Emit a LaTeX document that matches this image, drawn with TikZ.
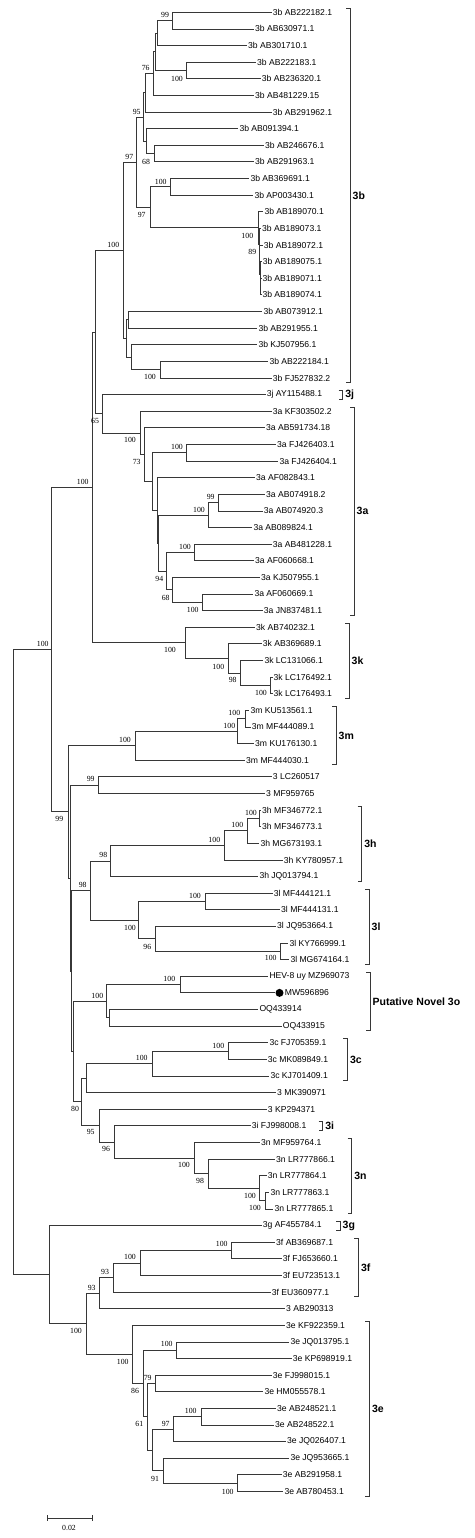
\documentclass[tikz,border=0pt]{standalone}
\usepackage{fontspec}
\setmainfont{Liberation Sans}
\newfontfamily\bootfont{Liberation Serif}
\usepackage{xcolor}
\usepackage{tikz}
\usetikzlibrary{positioning}
\definecolor{treegray}{RGB}{55, 55, 55}

\tikzset{
    branch/.style={draw=treegray, line width=0.8pt},
    leaf/.style={anchor=west, inner sep=1pt, font=\fontsize{8.6}{9}\selectfont},
    boot/.style={inner sep=0pt, font=\bootfont\fontsize{7.8}{8}\selectfont},
    clade/.style={anchor=west, inner sep=1pt, font=\bfseries\fontsize{10.5}{11}\selectfont},
    bracket/.style={draw=treegray, line width=0.8pt},
    dotmark/.style={circle, fill=black, inner sep=0pt, minimum size=8pt}
}

\begin{document}
\begin{tikzpicture}[x=1pt, y=-1pt]
    \useasboundingbox (0,0) rectangle (474,1538);

    % Leaves (row i sits at 16.62*i-4.32)
    \foreach \i/\x/\name in {1/271.7/3b AB222182.1, 2/254/3b AB630971.1, 3/247/3b AB301710.1,
        4/256/3b AB222183.1, 5/260.7/3b AB236320.1, 6/254/3b AB481229.15, 7/271.7/3b AB291962.1,
        8/238.3/3b AB091394.1, 9/264/3b AB246676.1, 10/254/3b AB291963.1, 11/249.3/3b AB369691.1,
        12/253.3/3b AP003430.1, 13/263.3/3b AB189070.1, 14/261/3b AB189073.1, 15/262.7/3b AB189072.1,
        16/261.7/3b AB189075.1, 17/261.3/3b AB189071.1, 18/261.3/3b AB189074.1, 19/262.3/3b AB073912.1,
        20/257.3/3b AB291955.1, 21/257.3/3b KJ507956.1, 22/268.3/3b AB222184.1, 23/271.7/3b FJ527832.2,
        24/265.7/3j AY115488.1, 25/271.7/3a KF303502.2, 26/265/3a AB591734.18, 27/276/3a FJ426403.1,
        28/278.3/3a FJ426404.1, 29/255/3a AF082843.1, 30/265/3a AB074918.2, 31/262.7/3a AB074920.3,
        32/252.3/3a AB089824.1, 33/271.7/3a AB481228.1, 34/254/3a AF060668.1, 35/260/3a KJ507955.1,
        36/253.3/3a AF060669.1, 37/262.7/3a JN837481.1, 38/255/3k AB740232.1, 39/261.7/3k AB369689.1,
        40/263.3/3k LC131066.1, 41/272.5/3k LC176492.1, 42/272.5/3k LC176493.1, 43/249.3/3m KU513561.1,
        44/250.7/3m MF444089.1, 45/254/3m KU176130.1, 46/245/3m MF444030.1, 47/271.7/3 LC260517,
        48/265/3 MF959765, 49/261/3h MF346772.1, 50/261/3h MF346773.1, 51/259.3/3h MG673193.1,
        52/282.7/3h KY780957.1, 53/258.3/3h JQ013794.1, 54/272.7/3l MF444121.1, 55/280/3l MF444131.1,
        56/276/3l JQ953664.1, 57/288.3/3l KY766999.1, 58/289.3/3l MG674164.1, 59/268.3/HEV-8 uy MZ969073,
        61/258.3/OQ433914, 62/281.7/OQ433915, 63/268.3/3c FJ705359.1, 64/266.7/3c MK089849.1,
        65/269.3/3c KJ701409.1, 66/276/3 MK390971, 67/266.7/3 KP294371, 68/250.7/3i FJ998008.1,
        69/260/3n MF959764.1, 70/275/3n LR777866.1, 71/266.7/3n LR777864.1, 72/269.3/3n LR777863.1,
        73/273.3/3n LR777865.1, 74/261.7/3g AF455784.1, 75/275/3f AB369687.1, 76/281.7/3f FJ653660.1,
        77/281.7/3f EU723513.1, 78/270.7/3f EU360977.1, 79/285/3 AB290313, 80/285/3e KF922359.1,
        81/289.3/3e JQ013795.1, 82/291.7/3e KP698919.1, 83/271.7/3e FJ998015.1, 84/263.3/3e HM055578.1,
        85/276/3e AB248521.1, 86/274/3e AB248522.1, 87/286/3e JQ026407.1, 88/289.3/3e JQ953665.1,
        89/281.7/3e AB291958.1, 90/283.3/3e AB780453.1} {
        \coordinate (l\i) at (\x,{16.62*\i-4.32});
        \node[leaf] (t\i) at (l\i) {\name};
    }
    % Query sequence
    \coordinate (l60) at (275.3,{16.62*60-4.32});
    \node[dotmark, anchor=west] (mw) at (l60) {};
    \node[leaf, right=0pt of mw] (t60) {MW596896};

    % Internal nodes
    \foreach \n/\x/\r in {a1/172.7/1.5, a2/157.3/2.25, a3/186/4.5, a4/155/3.375, a5/153.3/4.6875,
        a6/145.7/5.84375, a7/154/9.5, a8/146.7/8.75, a9/143.3/7.296875, a10/170/11.5,
        a11/260.5/17.5, a12/260/16.75, a13/259.5/15.875, a14/259/14.9375, a15/258.3/13.96875,
        a16/150/12.734375, a17/136.7/10.015625, a18/128.3/19.5, a19/160/22.5, a20/131.7/21.75,
        a21/126/20.625, a22/123.3/15.3203,
        c1/218.3/30.5, c2/208.3/31.25, c3/194/33.5, c4/202.7/36.5, c5/172.3/35.75, c6/166.7/34.625,
        c7/158.7/32.9375, c8/157.3/30.96875, c9/186/27.5, c10/152.3/29.2344, c11/144/27.6172,
        c12/140/26.3086, c13/102.7/25.1543, c14/95/20.2373,
        k1/270.7/41.5, k2/240.7/40.75, k3/228.3/39.875, k4/185/38.9375, k5/92.7/29.5874,
        m1/245/43.5, m2/237.7/44.25, m3/135/45.125, p1/98.3/47.5,
        h1/259.3/49.5, h2/247.3/50.25, h3/224.3/51.125, h4/110/52.0625,
        i1/205/54.5, i2/280.7/57.5, i3/155.7/56.75, i4/138.3/55.625, q1/90/53.8438,
        o1/180/59.5, o2/109.3/61.5, o3/106.7/60.5,
        g1/228.3/63.5, g2/152.3/64.25, g3/86/65.125,
        n1/265/72.5, n2/259.3/71.75, n3/208.3/70.875, n4/194/69.9375, n5/114/68.9688,
        n6/99.3/67.9844, n7/81.7/66.5547,
        s3/73.5/63.5273, s2/71.7/58.6855, s1/70/53.0928, s0/68.3/49.1089, t1/51.7/39.348,
        f1/231.7/75.5, f2/140/76.25, f3/113.3/77.125, f4/99.3/78.0625,
        e1/176/81.5, e2/155.7/83.5, e3/201/85.5, e4/173.3/86.25, e5/237.7/89.5, e6/163.3/88.75,
        e7/152.3/87.5, e8/147.7/85.5, e9/143.3/83.5, e10/132.7/81.75,
        z1/86/79.906, z2/49.3/76.953, rt/13.3/58.15} {
        \coordinate (\n) at (\x,{16.62*\r-4.32});
    }

    % Branches
    \foreach \p/\c in {a1/l1, a1/l2, a2/a1, a2/l3, a3/l4, a3/l5, a4/a2, a4/a3, a5/a4, a5/l6,
        a6/a5, a6/l7, a7/l9, a7/l10, a8/l8, a8/a7, a9/a6, a9/a8, a10/l11, a10/l12,
        a11/l17, a11/l18, a12/l16, a12/a11, a13/l15, a13/a12, a14/l14, a14/a13, a15/l13, a15/a14,
        a16/a10, a16/a15, a17/a9, a17/a16, a18/l19, a18/l20, a19/l22, a19/l23, a20/l21, a20/a19,
        a21/a18, a21/a20, a22/a17, a22/a21,
        c1/l30, c1/l31, c2/c1, c2/l32, c3/l33, c3/l34, c4/l36, c4/l37, c5/l35, c5/c4, c6/c3, c6/c5,
        c7/c2, c7/c6, c8/l29, c8/c7, c9/l27, c9/l28, c10/c9, c10/c8, c11/l26, c11/c10, c12/l25,
        c12/c11, c13/l24, c13/c12, c14/a22, c14/c13,
        k1/l41, k1/l42, k2/l40, k2/k1, k3/l39, k3/k2, k4/l38, k4/k3, k5/c14, k5/k4,
        m1/l43, m1/l44, m2/m1, m2/l45, m3/m2, m3/l46, p1/l47, p1/l48,
        h1/l49, h1/l50, h2/h1, h2/l51, h3/h2, h3/l52, h4/h3, h4/l53,
        i1/l54, i1/l55, i2/l57, i2/l58, i3/l56, i3/i2, i4/i1, i4/i3, q1/h4, q1/i4,
        o1/l59, o1/l60, o2/l61, o2/l62, o3/o1, o3/o2,
        g1/l63, g1/l64, g2/g1, g2/l65, g3/g2, g3/l66,
        n1/l72, n1/l73, n2/l71, n2/n1, n3/l70, n3/n2, n4/l69, n4/n3, n5/l68, n5/n4, n6/l67, n6/n5,
        n7/g3, n7/n6, s3/o3, s3/n7, s2/q1, s2/s3, s1/p1, s1/s2, s0/m3, s0/s1, t1/k5, t1/s0,
        f1/l75, f1/l76, f2/f1, f2/l77, f3/f2, f3/l78, f4/f3, f4/l79,
        e1/l81, e1/l82, e2/l83, e2/l84, e3/l85, e3/l86, e4/e3, e4/l87, e5/l89, e5/l90,
        e6/l88, e6/e5, e7/e4, e7/e6, e8/e2, e8/e7, e9/e1, e9/e8, e10/l80, e10/e9,
        z1/f4, z1/e10, z2/l74, z2/z1, rt/t1, rt/z2} {
        \draw[branch] (\p) |- (\c);
    }

    % Bootstrap values
    \foreach \x/\y/\v [count=\k] in {165/15/99, 177/79/100, 145.7/68/76, 136.7/111.7/95,
        146/161.7/68, 129.3/156.7/97, 160.7/181.7/100, 141.7/215/97, 247.3/236/100, 252.3/251.7/89,
        113.3/245/100, 150/376.7/100, 95/420.7/65,
        130/440/100, 136.7/462.3/73, 177/446.7/100, 210.7/496.7/99, 199/510/100, 185/546.7/100,
        159.3/579/94, 165.7/598.3/68, 192.7/610/100,
        42.7/644/100, 82.7/481.7/100, 170/650/100, 218.3/666.7/100, 232.7/680/98, 261/693.3/100,
        234.3/713.3/100, 229.3/726/100, 125/740/100, 59.3/819.3/99, 90.7/779.3/99,
        251/812.7/100, 237.3/825/100, 214.3/840/100, 103.3/855/98, 82.7/885/98,
        195/895.7/100, 130/928.3/100, 147.3/946.7/96, 270.7/958.3/100,
        169.3/979/100, 97.3/995.7/100, 218.3/1045.7/100, 141.7/1057.7/100,
        75/1109.3/80, 90.7/1132.3/95, 106/1149/96,
        184/1165/100, 200/1181/98, 250/1195.7/100, 255/1207.7/100,
        221.7/1244.3/100, 130/1256.7/100, 105/1271.7/93, 91.7/1287.7/93, 76/1331/100,
        166.7/1344.3/100, 122.7/1361.7/100, 147.7/1378.3/79, 135/1391/86, 190.7/1411/100,
        165.7/1424/97, 139.3/1424.3/61, 155/1479/91, 227.7/1491.7/100} {
        \node[boot] (bs\k) at (\x,\y) {\v};
    }

    % Clade brackets
    \foreach \a/\b/\bx/\name [count=\k] in {1/23/350/3b, 24/24/342.7/3j, 25/37/354/3a,
        38/42/349/3k, 43/46/336/3m, 49/53/361.7/3h, 54/58/369/3l, 59/62/370/Putative Novel 3o,
        63/65/347.3/3c, 68/68/322.7/3i, 69/73/351.7/3n, 74/74/340/3g, 75/78/358.3/3f,
        80/90/369.3/3e} {
        \draw[bracket] ({\bx-4},{16.62*\a-8.32}) -- (\bx,{16.62*\a-8.32})
            -- (\bx,{16.62*\b+0.18}) -- ({\bx-4},{16.62*\b+0.18});
        \node[clade] (cl\k) at ({\bx+1.5},{8.31*(\a+\b)-4.07}) {\name};
    }

    % Scale bar
    \coordinate (sbl) at (47.7,1518.3);
    \coordinate (sbr) at (92.3,1518.3);
    \draw[branch] (sbl) -- (sbr);
    \draw[branch] ([yshift=3pt]sbl) -- ([yshift=-3pt]sbl);
    \draw[branch] ([yshift=3pt]sbr) -- ([yshift=-3pt]sbr);
    \node[boot] (sbtext) at (69,1527.5) {0.02};
\end{tikzpicture}
\end{document}
